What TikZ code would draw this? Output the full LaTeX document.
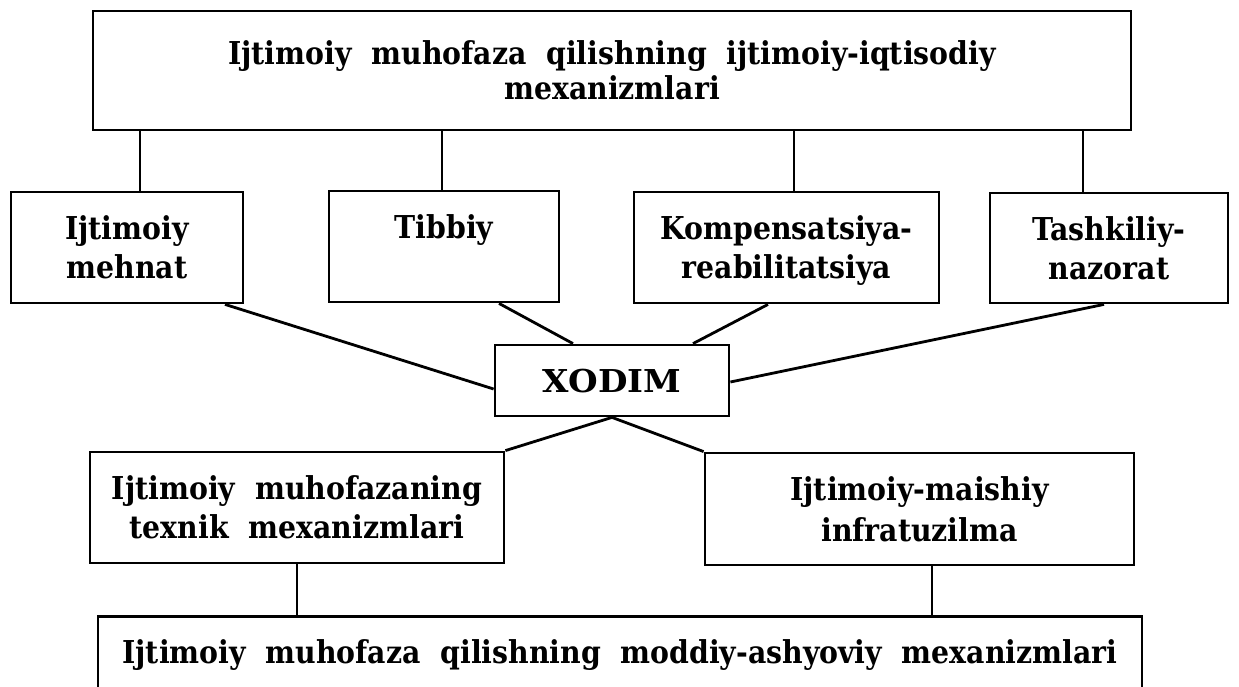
\documentclass[tikz,border=0pt]{standalone}
\usepackage{fontspec}
\newfontfamily\dfont{DejaVu Serif Condensed}[WordSpace=2]
\begin{document}
\begin{tikzpicture}[x=1pt,y=-1pt,
  box/.style={draw, line width=2.8pt, align=center, inner sep=0pt, text depth=0pt,
              font=\dfont\bfseries\fontsize{31.5}{39}\selectfont},
  link/.style={line width=2.8pt}]
\fill[white] (0,0) rectangle (1239,687);
\useasboundingbox (0,0) rectangle (1239,687);

\node[box, minimum width=1038pt, minimum height=119pt] (top) at (612,70.5)
  {Ijtimoiy muhofaza qilishning ijtimoiy-iqtisodiy\\[-4pt]mexanizmlari};
\node[box, minimum width=232pt, minimum height=111pt] (mehnat) at (127,247.5) {Ijtimoiy\\mehnat};
\node[box, minimum width=230pt, minimum height=111pt] (tibbiy) at (444,246.5) {Tibbiy\\\mbox{}};
\node[box, minimum width=305pt, minimum height=111pt] (komp) at (786.5,247.5) {Kompensatsiya-\\reabilitatsiya};
\node[box, minimum width=238pt, minimum height=110pt] (tash) at (1109,248) {Tashkiliy-\\nazorat};
\node[box, minimum width=234pt, minimum height=71pt] (xodim) at (612,380.5)
  {\addfontfeature{FakeStretch=1.2}XODIM};
\node[box, minimum width=414pt, minimum height=111pt] (texnik) at (297,507.5)
  {Ijtimoiy muhofazaning\\texnik mexanizmlari};
\node[box, minimum width=429pt, minimum height=112pt] (infra) at (919.5,509)
  {Ijtimoiy-maishiy\\[2pt]infratuzilma};
\node[box, anchor=north, minimum width=1044pt, inner ysep=23pt, text height=24pt, text depth=80pt]
  (bottom) at (620,615) {Ijtimoiy muhofaza qilishning moddiy-ashyoviy mexanizmlari};

% top box to second row
\coordinate (c1) at ([xshift=13pt]mehnat.north);
\coordinate (c2) at ([xshift=-2pt]tibbiy.north);
\coordinate (c3) at ([xshift=7.5pt]komp.north);
\coordinate (c4) at ([xshift=-26pt]tash.north);
\draw[link] (c1) -- (c1 |- top.south);
\draw[link] (c2) -- (c2 |- top.south);
\draw[link] (c3) -- (c3 |- top.south);
\draw[link] (c4) -- (c4 |- top.south);

% second row to XODIM
\draw[link] ([xshift=98pt]mehnat.south) -- ([yshift=-8.5pt]xodim.west);
\draw[link] ([xshift=55pt]tibbiy.south) -- ([xshift=-39pt]xodim.north);
\draw[link] ([xshift=-18.5pt]komp.south) -- ([xshift=81pt]xodim.north);
\draw[link] ([xshift=-5pt]tash.south) -- ([yshift=-1.5pt]xodim.east);

% XODIM to third row
\draw[link] (xodim.south) -- (texnik.north east);
\draw[link] (xodim.south) -- (infra.north west);

% third row to bottom box
\coordinate (c5) at (texnik.south);
\coordinate (c6) at ([xshift=12.5pt]infra.south);
\draw[link] (c5) -- (c5 |- bottom.north);
\draw[link] (c6) -- (c6 |- bottom.north);
\end{tikzpicture}
\end{document}
